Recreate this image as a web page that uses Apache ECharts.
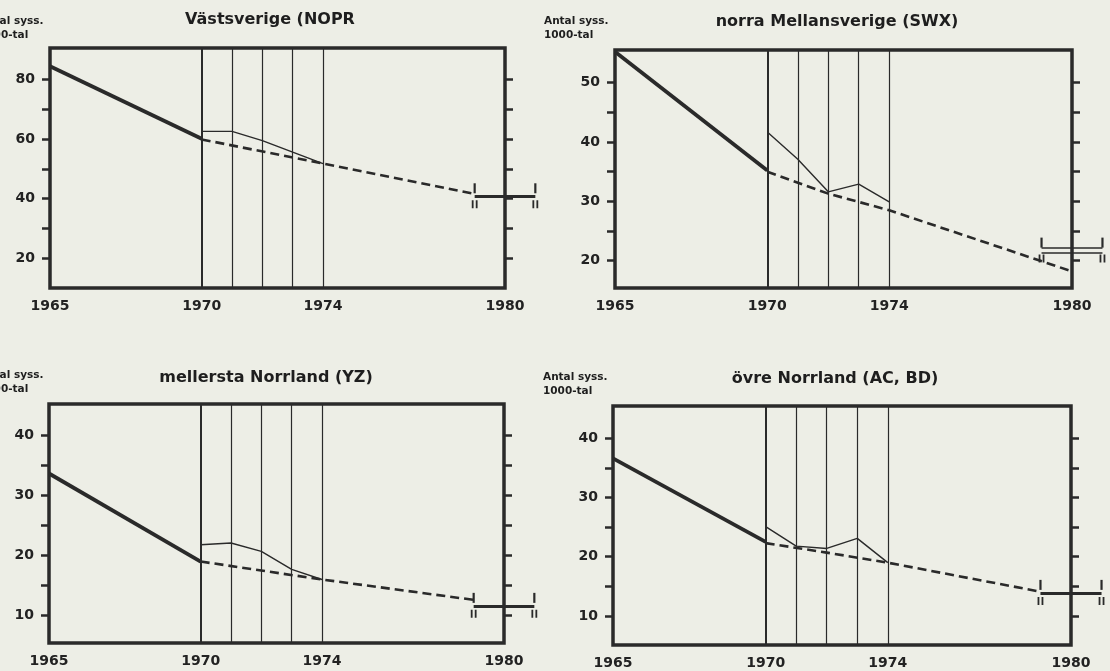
<!DOCTYPE html>
<html>
<head>
<meta charset="utf-8">
<script src="https://cdn.jsdelivr.net/npm/echarts@6/dist/echarts.min.js"></script>
<style>
html, body { margin: 0; padding: 0; background: #edeee6; }
#chart { width: 1110px; height: 671px; }
</style>
</head>
<body>
<div id="chart"></div>
<script>
// panel titles and axis text
const titles = ['Västsverige (NOPR', 'norra Mellansverige (SWX)', 'mellersta Norrland (YZ)', 'övre Norrland (AC, BD)'];
const unitText = 'Antal syss.\n1000-tal';
const labelYears = [1965, 1970, 1974, 1980];
const gridYears = [1970, 1971, 1972, 1973, 1974];

// x values
const pastYears = [1965, 1970];
const actualYears = [1970, 1971, 1972, 1973, 1974];
const bracketYears = [1979, 1981];

// Västsverige
const pastVast = [84.5, 60.1];
const actualVast = [62.6, 62.6, 59.5, 55.6, 51.8];
const forecastYearsVast = [1970, 1974, 1979];
const forecastVast = [59.9, 51.8, 41.6];
const bracketVast = [40.8];

// norra Mellansverige
const pastNorraMell = [55.2, 35.2];
const actualNorraMell = [41.7, 37.1, 31.6, 32.9, 29.9];
const forecastYearsNorraMell = [1970, 1972, 1974, 1980];
const forecastNorraMell = [35.0, 31.3, 28.5, 18.2];
const bracketNorraMell = [22.1, 21.3];

// mellersta Norrland
const pastMellNorr = [33.7, 19.0];
const actualMellNorr = [21.8, 22.1, 20.7, 17.7, 16.0];
const forecastYearsMellNorr = [1970, 1972, 1974, 1979];
const forecastMellNorr = [19.0, 17.5, 16.0, 12.6];
const bracketMellNorr = [11.6];

// övre Norrland
const pastOvreNorr = [36.6, 22.5];
const actualOvreNorr = [25.1, 21.8, 21.4, 23.1, 19.0];
const forecastYearsOvreNorr = [1970, 1972, 1974, 1979];
const forecastOvreNorr = [22.3, 20.7, 19.0, 14.1];
const bracketOvreNorr = [13.9];

// y scales and ticks
const yMin = [10, 15.4, 5.4, 5.1];
const yMax = [90.6, 55.5, 45.3, 45.45];
const yLabels = [[20, 40, 60, 80], [20, 30, 40, 50], [10, 20, 30, 40], [10, 20, 30, 40]];
const yTicks = [
  [20, 30, 40, 50, 60, 70, 80],
  [20, 25, 30, 35, 40, 45, 50],
  [10, 15, 20, 25, 30, 35, 40],
  [10, 15, 20, 25, 30, 35, 40]
];

const panels = [
  { past: pastVast, actual: actualVast, fYears: forecastYearsVast, forecast: forecastVast, bracket: bracketVast },
  { past: pastNorraMell, actual: actualNorraMell, fYears: forecastYearsNorraMell, forecast: forecastNorraMell, bracket: bracketNorraMell },
  { past: pastMellNorr, actual: actualMellNorr, fYears: forecastYearsMellNorr, forecast: forecastMellNorr, bracket: bracketMellNorr },
  { past: pastOvreNorr, actual: actualOvreNorr, fYears: forecastYearsOvreNorr, forecast: forecastOvreNorr, bracket: bracketOvreNorr }
];

const ink = '#2a2a2a';
const labelFont = { fontFamily: 'DejaVu Sans', fontWeight: 'bold', fontSize: 14, color: '#222' };

const gridBoxes = [
  { left: 50, top: 48, width: 455, height: 240 },
  { left: 615, top: 50, width: 457, height: 238 },
  { left: 49, top: 404, width: 455, height: 239 },
  { left: 613, top: 406, width: 458, height: 239 }
];
const titlePos = [[270, 20], [837, 22], [266, 378], [835, 379]];
const unitPos = [[-21, 14], [544, 14], [-21, 368], [543, 370]];

const zip = (xs, ys) => xs.map((x, i) => [x, ys[i]]);

let grid = [], xAxis = [], yAxis = [], series = [], graphic = [];

panels.forEach((p, i) => {
  grid.push(Object.assign({ show: true, borderWidth: 3.5, borderColor: ink, backgroundColor: 'transparent' }, gridBoxes[i]));

  xAxis.push({
    type: 'value', gridIndex: i, min: 1965, max: 1980,
    axisLine: { show: false }, axisTick: { show: false }, splitLine: { show: false },
    axisLabel: Object.assign({ margin: 11, customValues: labelYears, formatter: v => String(v) }, labelFont)
  });

  const tickStyle = { show: true, length: 8, customValues: yTicks[i], lineStyle: { color: ink, width: 2.5 } };
  yAxis.push({
    type: 'value', gridIndex: i, position: 'left', min: yMin[i], max: yMax[i],
    axisLine: { show: false }, splitLine: { show: false },
    axisTick: tickStyle,
    axisLabel: Object.assign({ margin: 15, customValues: yLabels[i], formatter: v => String(v) }, labelFont)
  });
  yAxis.push({
    type: 'value', gridIndex: i, position: 'right', min: yMin[i], max: yMax[i],
    axisLine: { show: false }, splitLine: { show: false }, axisLabel: { show: false },
    axisTick: tickStyle
  });

  const yi = i * 2;
  const common = { xAxisIndex: i, yAxisIndex: yi, silent: true, animation: false };

  series.push(Object.assign({
    type: 'line', symbol: 'none', data: zip(pastYears, p.past),
    lineStyle: { color: ink, width: 3.8 },
    markLine: {
      silent: true, symbol: ['none', 'none'], label: { show: false }, animation: false,
      lineStyle: { color: ink, width: 1.2, type: 'solid' },
      data: gridYears.map(y => ({ xAxis: y, lineStyle: { color: ink, width: y === 1970 ? 2 : 1.2, type: 'solid' } }))
    }
  }, common));

  series.push(Object.assign({
    type: 'line', symbol: 'none', data: zip(actualYears, p.actual),
    lineStyle: { color: ink, width: 1.4 }
  }, common));

  series.push(Object.assign({
    type: 'line', symbol: 'none', data: zip(p.fYears, p.forecast),
    lineStyle: { color: ink, width: 2.6, type: [9, 5] }
  }, common));

  // range bracket to the right of the frame
  series.push(Object.assign({
    type: 'lines', coordinateSystem: 'cartesian2d', clip: false,
    data: p.bracket.map(level => ({ coords: bracketYears.map(y => [y, level]) })),
    lineStyle: { color: ink, width: p.bracket.length > 1 ? 1.6 : 3, opacity: 1 }
  }, common));

  const mid = p.bracket.reduce((a, b) => a + b, 0) / p.bracket.length;
  series.push(Object.assign({
    type: 'scatter', clip: false,
    data: bracketYears.map(y => [y, mid]),
    symbol: 'rect', symbolSize: [2.2, 10], symbolOffset: [0, -8],
    itemStyle: { color: ink, opacity: 1 }
  }, common));
  series.push(Object.assign({
    type: 'scatter', clip: false,
    data: bracketYears.map(y => [y, mid]),
    symbol: 'path://M0,0h1.8v8h-1.8z M4,0h1.8v8h-1.8z', symbolSize: [5.8, 8], symbolOffset: [0, 8],
    itemStyle: { color: ink, opacity: 1 }
  }, common));

  graphic.push({
    type: 'text', x: titlePos[i][0], y: titlePos[i][1], silent: true,
    style: {
      text: titles[i], fill: '#1e1e1e', font: 'bold 16px "DejaVu Sans"',
      align: 'center', textAlign: 'center', verticalAlign: 'middle', textVerticalAlign: 'middle'
    }
  });
  graphic.push({
    type: 'text', x: unitPos[i][0], y: unitPos[i][1], silent: true,
    style: {
      text: unitText, fill: '#1e1e1e', font: 'bold 10.5px "DejaVu Sans"', lineHeight: 14,
      align: 'left', textAlign: 'left', verticalAlign: 'top', textVerticalAlign: 'top'
    }
  });
});

const chart = echarts.init(document.getElementById('chart'));
chart.setOption({
  backgroundColor: '#edeee6',
  animation: false,
  grid: grid,
  xAxis: xAxis,
  yAxis: yAxis,
  series: series,
  graphic: graphic
});
</script>
</body>
</html>
